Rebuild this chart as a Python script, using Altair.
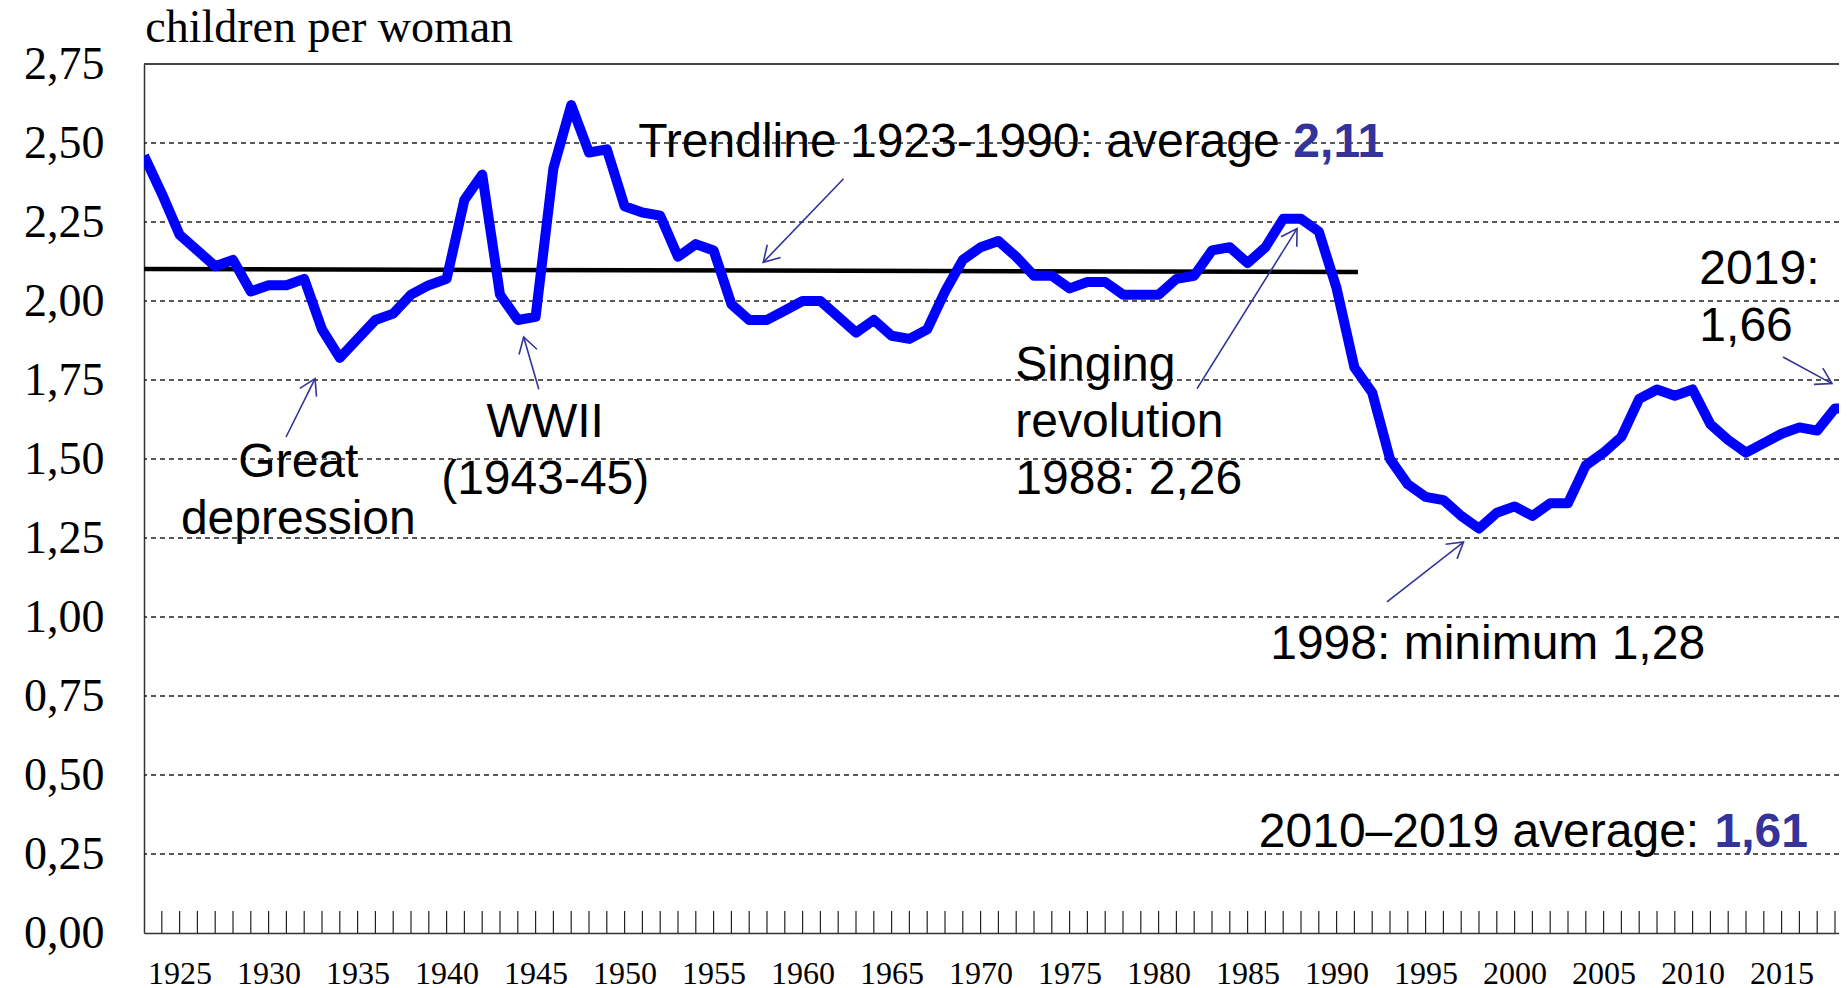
import math
import altair as alt
import pandas as pd

# ---------------- data ----------------
years = list(range(1923, 2020))
tfr = [2.46, 2.34, 2.21, 2.16, 2.11, 2.13, 2.03, 2.05, 2.05, 2.07,
       1.91, 1.82, 1.88, 1.94, 1.96, 2.02, 2.05, 2.07, 2.32, 2.40,
       2.02, 1.94, 1.95, 2.42, 2.62, 2.47, 2.48, 2.30, 2.28, 2.27,
       2.14, 2.18, 2.16, 1.99, 1.94, 1.94, 1.97, 2.00, 2.00, 1.95,
       1.90, 1.94, 1.89, 1.88, 1.91, 2.03, 2.13, 2.17, 2.19, 2.14,
       2.08, 2.08, 2.04, 2.06, 2.06, 2.02, 2.02, 2.02, 2.07, 2.08,
       2.16, 2.17, 2.12, 2.17, 2.26, 2.26, 2.22, 2.04, 1.79, 1.71,
       1.50, 1.42, 1.38, 1.37, 1.32, 1.28, 1.33, 1.35, 1.32, 1.36,
       1.36, 1.48, 1.52, 1.57, 1.69, 1.72, 1.70, 1.72, 1.61, 1.56,
       1.52, 1.55, 1.58, 1.60, 1.59, 1.66, 1.66]

y_tick_values = [0.0, 0.25, 0.5, 0.75, 1.0, 1.25, 1.5, 1.75, 2.0, 2.25, 2.5, 2.75]
grid_values = [0.25, 0.5, 0.75, 1.0, 1.25, 1.5, 1.75, 2.0, 2.25, 2.5]
x_label_years = list(range(1925, 2016, 5))
tick_years = list(range(1924, 2019))

# trendline 1923-1990
trend_x = [1923.0]
trend_x2 = [1991.2]
trend_y = [2.101]
trend_y2 = [2.092]

# annotations (data coordinates)
left_texts = ["Trendline 1923-1990: average", "Singing\nrevolution\n1988: 2,26",
              "1998: minimum 1,28", "2010\u20132019 average:", "2019:\n1,66"]
left_x = [1950.77, 1971.95, 1986.27, 1985.63, 2010.38]
left_y = [2.4547, 1.749, 0.868, 0.272, 2.055]

center_texts = ["Great\ndepression", "WWII\n(1943-45)"]
center_x = [1931.67, 1945.54]
center_y = [1.443, 1.5696]

bold_texts = ["2,11", "1,61"]
bold_x = [1987.57, 2011.23]
bold_y = [2.4547, 0.272]

title_text = ["children per woman"]
title_x = [1923.07]
title_y = [2.82]

arrow_tail_x = [1962.30, 1930.98, 1945.18, 1982.16, 1992.83, 2015.08]
arrow_tail_y = [2.387, 1.5696, 1.7206, 1.7228, 1.0475, 1.8228]
arrow_head_x = [1957.79, 1932.61, 1944.33, 1987.78, 1997.13, 2017.83]
arrow_head_y = [2.1225, 1.7544, 1.886, 2.229, 1.2373, 1.7386]

# ---------------- layout ----------------
W = 1695
H = 869
PX_PER_YEAR = 17.8
XMIN = 1923
XMAX = XMIN + W / PX_PER_YEAR
YMAX = 2.75
px_per_unit = H / YMAX

BLUE = "#0000FF"
NAVY = "#333399"
SANS = "Liberation Sans"
SERIF = "Liberation Serif"
ANN_SIZE = 48

xscale = alt.Scale(domain=[XMIN, XMAX], nice=False, zero=False)
yscale = alt.Scale(domain=[0, YMAX], nice=False, zero=True)

xaxis = alt.Axis(values=x_label_years, format="d", grid=False, ticks=False,
                 labelPadding=50, labelBaseline="alphabetic",
                 labelFont=SERIF, labelFontSize=32, labelColor="black",
                 domainColor="#333333", domainWidth=1.5, title=None,
                 labelOverlap=False, labelFlush=False)
yaxis = alt.Axis(values=y_tick_values,
                 labelExpr="replace(format(datum.value, '.2f'), '.', ',')",
                 grid=False, ticks=False, labelPadding=40,
                 labelFont=SERIF, labelFontSize=46, labelColor="black",
                 domainColor="#333333", domainWidth=1.5, title=None,
                 labelOverlap=False, labelFlush=False)


def X(field):
    return alt.X(field, scale=xscale, axis=xaxis)


def Y(field):
    return alt.Y(field, scale=yscale, axis=yaxis)


df = pd.DataFrame({"year": years, "tfr": tfr})
grid_df = pd.DataFrame({"v": grid_values})
ticks_df = pd.DataFrame({"yr": tick_years})
trend_df = pd.DataFrame({"x": trend_x, "x2": trend_x2, "y": trend_y, "y2": trend_y2})

angles = []
for tx, ty, hx, hy in zip(arrow_tail_x, arrow_tail_y, arrow_head_x, arrow_head_y):
    dx = (hx - tx) * PX_PER_YEAR
    dy = -(hy - ty) * px_per_unit
    angles.append(math.degrees(math.atan2(dx, -dy)) % 360)
arrows_df = pd.DataFrame({"tx": arrow_tail_x, "ty": arrow_tail_y,
                          "hx": arrow_head_x, "hy": arrow_head_y, "ang": angles})

left_df = pd.DataFrame({"x": left_x, "y": left_y, "t": left_texts})
center_df = pd.DataFrame({"x": center_x, "y": center_y, "t": center_texts})
bold_df = pd.DataFrame({"x": bold_x, "y": bold_y, "t": bold_texts})
title_df = pd.DataFrame({"x": title_x, "y": title_y, "t": title_text})

line = alt.Chart(df).mark_line(color=BLUE, strokeWidth=10, strokeJoin="round", clip=True).encode(
    x=X("year:Q"),
    y=Y("tfr:Q"),
)

grid = alt.Chart(grid_df).mark_rule(color="#222222", strokeWidth=1.3, strokeDash=[5, 4]).encode(
    y=Y("v:Q")
)

top_frame = alt.Chart(grid_df).mark_rule(color="#444444", strokeWidth=1.5).encode(
    y=alt.value(0)
)

year_ticks = alt.Chart(ticks_df).mark_rule(color="#222222", strokeWidth=1.2).encode(
    x=X("yr:Q"),
    y=alt.value(H),
    y2=alt.value(H - 22),
)

trend = alt.Chart(trend_df).mark_rule(color="black", strokeWidth=4.5).encode(
    x=X("x:Q"),
    x2="x2:Q",
    y=Y("y:Q"),
    y2="y2:Q",
)

shafts = alt.Chart(arrows_df).mark_rule(color=NAVY, strokeWidth=1.6).encode(
    x=X("tx:Q"),
    x2="hx:Q",
    y=Y("ty:Q"),
    y2="hy:Q",
)

heads = alt.Chart(arrows_df).mark_point(
    shape="M-0.515,0.857L0,0L0.515,0.857", filled=False, size=1300,
    color=NAVY, strokeWidth=1.6, opacity=1
).encode(
    x=X("hx:Q"),
    y=Y("hy:Q"),
    angle=alt.Angle("ang:Q", scale=None),
)

left_text = alt.Chart(left_df).mark_text(
    align="left", baseline="alphabetic", font=SANS, fontSize=ANN_SIZE, color="black",
    lineBreak="\n", lineHeight=57
).encode(
    x=X("x:Q"),
    y=Y("y:Q"),
    text="t:N",
)

center_text = alt.Chart(center_df).mark_text(
    align="center", baseline="alphabetic", font=SANS, fontSize=ANN_SIZE, color="black",
    lineBreak="\n", lineHeight=57
).encode(
    x=X("x:Q"),
    y=Y("y:Q"),
    text="t:N",
)

bold_text = alt.Chart(bold_df).mark_text(
    align="left", baseline="alphabetic", font=SANS, fontSize=ANN_SIZE, fontWeight="bold",
    color=NAVY
).encode(
    x=X("x:Q"),
    y=Y("y:Q"),
    text="t:N",
)

title = alt.Chart(title_df).mark_text(
    align="left", baseline="alphabetic", font=SERIF, fontSize=46, color="black"
).encode(
    x=X("x:Q"),
    y=Y("y:Q"),
    text="t:N",
)

chart = alt.layer(
    grid, top_frame, year_ticks, trend, line, shafts, heads,
    left_text, center_text, bold_text, title
).properties(
    width=W, height=H,
    autosize=alt.AutoSizeParams(type="none"),
    padding={"left": 136, "top": 56, "right": 0, "bottom": 57},
).configure_view(stroke=None).configure(background="white")

chart.save("out.html", embed_options={"renderer": "svg", "actions": False})
